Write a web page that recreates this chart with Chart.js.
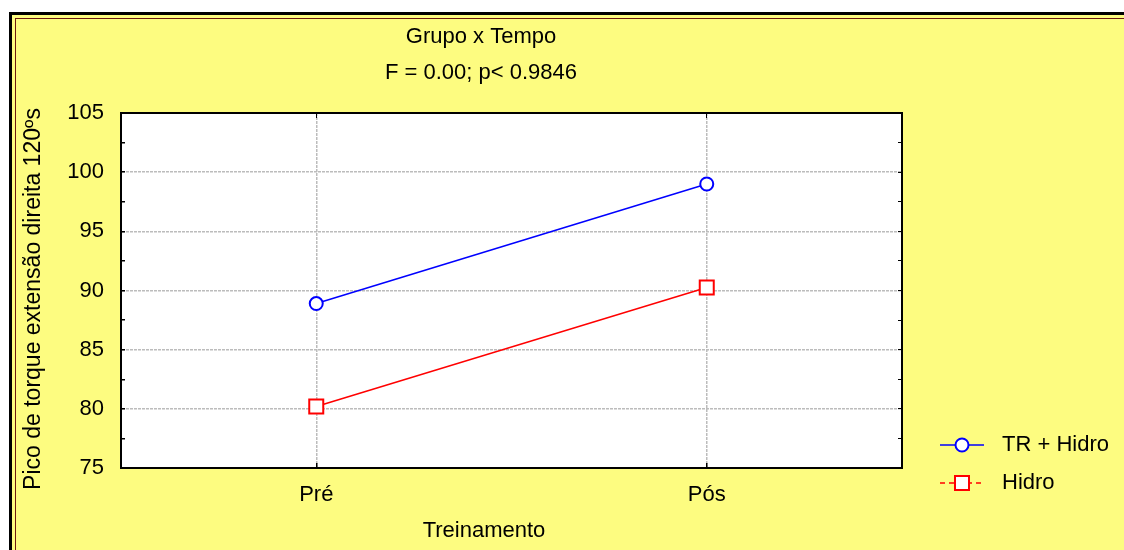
<!DOCTYPE html>
<html lang="pt">

<head>
    <meta charset="UTF-8">
    <title>Grupo x Tempo</title>
    <script src="https://cdn.jsdelivr.net/npm/chart.js"></script>
    <style>
        body { margin: 0; background: #fff; }
        #wrap { width: 1124px; height: 550px; }
    </style>
</head>

<body>
    <div id="wrap"><canvas id="grupoChart" width="1124" height="550"></canvas></div>

    <script>
        // values
        const categories = ['Pré', 'Pós'];
        const trHidro = [88.9, 99.0];
        const hidro = [80.2, 90.25];
        const yMin = 75, yMax = 105, yStep = 2.5;

        const titleLines = ['Grupo x Tempo', 'F = 0.00; p< 0.9846'];
        const xTitle = 'Treinamento';
        const yTitle = 'Pico de torque extensão direita 120ºs';
        const seriesNames = ['TR + Hidro', 'Hidro'];

        const FONT = '"Liberation Sans", Arial, sans-serif';
        const SIZE = 22;
        const YELLOW = '#fdfc80';

        // frame, white plot area, titles and legend
        const statPanel = {
            id: 'statPanel',
            beforeDraw(chart) {
                const ctx = chart.ctx, a = chart.chartArea;
                ctx.save();
                ctx.fillStyle = '#fff';
                ctx.fillRect(0, 0, chart.width, chart.height);
                ctx.fillStyle = YELLOW;
                ctx.fillRect(10, 13, chart.width, chart.height);
                ctx.strokeStyle = '#000';
                ctx.lineWidth = 3;
                ctx.strokeRect(10.5, 13.5, chart.width + 20, chart.height + 20);
                ctx.strokeStyle = '#6e1a10';
                ctx.lineWidth = 1;
                ctx.strokeRect(15.5, 18.5, chart.width + 20, chart.height + 20);
                ctx.fillStyle = '#fff';
                ctx.fillRect(a.left, a.top, a.right - a.left, a.bottom - a.top);
                ctx.restore();
            },
            afterDraw(chart) {
                const ctx = chart.ctx;
                ctx.save();
                ctx.fillStyle = '#000';
                ctx.font = SIZE + 'px ' + FONT;
                ctx.textAlign = 'center';
                ctx.textBaseline = 'middle';
                ctx.fillText(titleLines[0], 481, 37);
                ctx.fillText(titleLines[1], 481, 73);
                ctx.fillText(xTitle, 484, 531);

                ctx.save();
                ctx.translate(34, 299);
                ctx.rotate(-Math.PI / 2);
                ctx.font = '23px ' + FONT;
                ctx.fillText(yTitle, 0, 0);
                ctx.restore();

                // legend
                const rows = [445, 483];
                chart.data.datasets.forEach((ds, i) => {
                    const y = rows[i];
                    ctx.strokeStyle = ds.borderColor;
                    ctx.lineWidth = ds.borderWidth;
                    ctx.setLineDash(i === 0 ? [] : [5, 4]);
                    ctx.beginPath();
                    ctx.moveTo(940, y);
                    ctx.lineTo(984, y);
                    ctx.stroke();
                    ctx.setLineDash([]);
                    ctx.fillStyle = '#fff';
                    ctx.lineWidth = 2;
                    if (ds.pointStyle === 'rect') {
                        ctx.fillRect(955, y - 7, 14, 14);
                        ctx.strokeRect(955, y - 7, 14, 14);
                    } else {
                        ctx.beginPath();
                        ctx.arc(962, y, 6.5, 0, Math.PI * 2);
                        ctx.fill();
                        ctx.stroke();
                    }
                    ctx.fillStyle = '#000';
                    ctx.textAlign = 'left';
                    ctx.fillText(ds.label, 1002, y);
                });
                ctx.restore();
            }
        };

        const gridColor = c => (c.tick && c.tick.value % 5 === 0 ? '#bcbcbc' : 'rgba(0,0,0,0)');

        const ctx = document.getElementById('grupoChart').getContext('2d');
        new Chart(ctx, {
            type: 'line',
            data: {
                labels: categories,
                datasets: [{
                    label: seriesNames[0],
                    data: trHidro,
                    borderColor: '#0000ff',
                    borderWidth: 1.5,
                    pointStyle: 'circle',
                    pointRadius: 6.5,
                    pointBorderWidth: 2,
                    pointBackgroundColor: '#fff',
                    tension: 0
                }, {
                    label: seriesNames[1],
                    data: hidro,
                    borderColor: '#ff0000',
                    borderWidth: 1.5,
                    pointStyle: 'rect',
                    pointRadius: 9.9,
                    pointBorderWidth: 2,
                    pointBackgroundColor: '#fff',
                    tension: 0
                }]
            },
            options: {
                responsive: false,
                animation: false,
                layout: { padding: { left: 0, right: 222, top: 113, bottom: 0 } },
                plugins: {
                    legend: { display: false },
                    title: { display: false },
                    tooltip: { enabled: false }
                },
                scales: {
                    x: {
                        type: 'category',
                        position: 'bottom',
                        offset: true,
                        afterFit: s => { s.height = 82; },
                        grid: { color: '#bcbcbc', tickColor: '#000', tickLength: -5, lineWidth: 1.5 },
                        border: { color: '#000', width: 2, dash: [3, 1] },
                        ticks: { color: '#000', padding: 19, font: { family: FONT, size: SIZE } }
                    },
                    x2: {
                        type: 'category',
                        position: 'top',
                        offset: true,
                        afterFit: s => { s.height = 0; },
                        grid: { drawOnChartArea: false, color: 'rgba(0,0,0,0)', tickColor: '#000', tickLength: -5 },
                        border: { color: '#000', width: 2 },
                        ticks: { display: false }
                    },
                    y: {
                        position: 'left',
                        min: yMin,
                        max: yMax,
                        afterFit: s => { s.width = 121; },
                        afterBuildTicks: s => {
                            s.ticks = [];
                            for (let v = yMin; v <= yMax; v += yStep) s.ticks.push({ value: v });
                        },
                        grid: { color: gridColor, tickColor: '#000', tickLength: -4, lineWidth: 1.5 },
                        border: { color: '#000', width: 2, dash: [3, 1] },
                        ticks: {
                            color: '#000',
                            padding: 21,
                            font: { family: FONT, size: SIZE },
                            callback: v => (v % 5 === 0 ? String(v) : '')
                        }
                    },
                    y2: {
                        position: 'right',
                        min: yMin,
                        max: yMax,
                        afterFit: s => { s.width = 0; },
                        afterBuildTicks: s => {
                            s.ticks = [];
                            for (let v = yMin; v <= yMax; v += yStep) s.ticks.push({ value: v });
                        },
                        grid: { drawOnChartArea: false, color: 'rgba(0,0,0,0)', tickColor: '#000', tickLength: -4 },
                        border: { color: '#000', width: 2 },
                        ticks: { display: false }
                    }
                }
            },
            plugins: [statPanel]
        });
    </script>
</body>

</html>
